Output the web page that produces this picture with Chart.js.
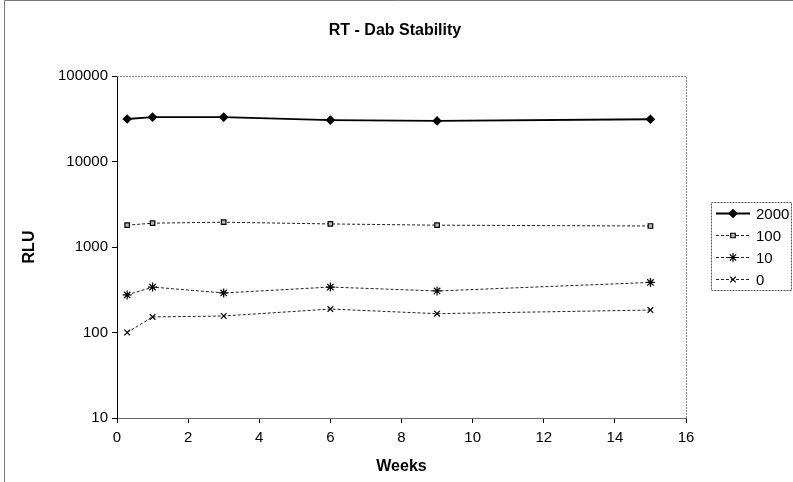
<!DOCTYPE html>
<html>
<head>
<meta charset="utf-8">
<script src="https://cdn.jsdelivr.net/npm/chart.js@4.4.1/dist/chart.umd.min.js"></script>
<style>
  html, body { margin: 0; padding: 0; background: #fff; }
  #wrap { width: 793px; height: 482px; position: relative; }
</style>
</head>
<body>
<div id="wrap"><canvas id="chart" width="793" height="482"></canvas></div>
<script>
// weeks at which each sample was read
const weeks = [0.286, 1, 3, 6, 9, 15];
const seriesNames = ['2000', '100', '10', '0'];
const rlu2000 = [31400, 33000, 33000, 30500, 29800, 31200];
const rlu100 = [1800, 1900, 1950, 1860, 1800, 1760];
const rlu10 = [275, 340, 290, 340, 306, 385];
const rlu0 = [100, 152, 156, 188, 166, 183];
const yTicks = [10, 100, 1000, 10000, 100000];
const xTicks = [0, 2, 4, 6, 8, 10, 12, 14, 16];

const FONT = "'Liberation Sans', Arial, sans-serif";

const styles = [
    { pointStyle: 'rectRot', radius: 4, fill: '#000', line: '#000', width: 1.8, dash: [] },
    { pointStyle: 'rect', radius: 3.2, fill: '#bbb', line: '#222', width: 1, dash: [3, 2] },
    { pointStyle: 'star', radius: 4.5, fill: '#fff', line: '#222', width: 1, dash: [3, 2] },
    { pointStyle: 'crossRot', radius: 4, fill: '#fff', line: '#222', width: 1, dash: [3, 2] }
];

const allValues = [rlu2000, rlu100, rlu10, rlu0];
const datasets = allValues.map((vals, i) => ({
    label: seriesNames[i],
    data: weeks.map((w, j) => ({ x: w, y: vals[j] })),
    borderColor: styles[i].line,
    borderWidth: styles[i].width,
    borderDash: styles[i].dash,
    pointStyle: styles[i].pointStyle,
    pointRadius: styles[i].radius,
    pointBackgroundColor: styles[i].fill,
    pointBorderColor: '#000',
    pointBorderWidth: 1.2,
    fill: false,
    tension: 0
}));

// frame, title, dotted plot border and legend box
const extras = {
    id: 'extras',
    beforeDraw(chart) {
        const ctx = chart.ctx;
        ctx.save();
        ctx.fillStyle = '#fff';
        ctx.fillRect(0, 0, chart.width, chart.height);
        ctx.strokeStyle = '#777';
        ctx.lineWidth = 1;
        ctx.beginPath();
        ctx.moveTo(4.5, chart.height);
        ctx.lineTo(4.5, 0.5);
        ctx.lineTo(chart.width, 0.5);
        ctx.stroke();
        ctx.restore();
    },
    afterDraw(chart) {
        const ctx = chart.ctx;
        const a = chart.chartArea;
        ctx.save();
        // title
        ctx.fillStyle = '#000';
        ctx.font = 'bold 16px ' + FONT;
        ctx.textAlign = 'center';
        ctx.textBaseline = 'middle';
        ctx.fillText('RT - Dab Stability', 395, 31);

        // dotted top/right border
        ctx.strokeStyle = '#888';
        ctx.setLineDash([2, 1]);
        ctx.beginPath();
        ctx.moveTo(a.left, a.top + 0.5);
        ctx.lineTo(a.right + 0.5, a.top + 0.5);
        ctx.lineTo(a.right + 0.5, a.bottom);
        ctx.stroke();

        // legend
        ctx.strokeStyle = '#555';
        ctx.setLineDash([2, 1]);
        ctx.strokeRect(711.5, 202.5, 80, 88);
        ctx.font = '15px ' + FONT;
        ctx.textAlign = 'left';
        chart.data.datasets.forEach((ds, i) => {
            const y = 213 + i * 22 + 0.5;
            ctx.strokeStyle = ds.borderColor;
            ctx.lineWidth = ds.borderWidth;
            ctx.setLineDash(ds.borderDash);
            ctx.beginPath();
            ctx.moveTo(716, y);
            ctx.lineTo(750, y);
            ctx.stroke();
            ctx.setLineDash([]);
            ctx.fillStyle = ds.pointBackgroundColor;
            ctx.strokeStyle = '#000';
            ctx.lineWidth = 1.2;
            Chart.helpers.drawPoint(ctx, { pointStyle: ds.pointStyle, radius: ds.pointRadius, borderWidth: 1.2, rotation: 0 }, 733, y);
            ctx.fillStyle = '#000';
            ctx.fillText(ds.label, 756, y + 1);
        });
        ctx.restore();
    }
};

new Chart(document.getElementById('chart'), {
    type: 'line',
    data: { datasets },
    plugins: [extras],
    options: {
        responsive: false,
        animation: false,
        layout: { padding: { left: 0, right: 107, top: 76, bottom: 0 } },
        plugins: { legend: { display: false }, title: { display: false }, tooltip: { enabled: false } },
        scales: {
            x: {
                type: 'linear',
                min: 0,
                max: 16,
                afterBuildTicks: s => { s.ticks = xTicks.map(v => ({ value: v })); },
                afterFit: s => { s.height = 64; },
                grid: { drawOnChartArea: false, drawTicks: true, tickLength: 5, color: '#000' },
                border: { display: true, color: '#666', dash: [3, 1] },
                ticks: { color: '#000', font: { family: FONT, size: 15 }, padding: 6, maxRotation: 0 },
                title: { display: true, text: 'Weeks', color: '#000', font: { family: FONT, size: 16, weight: 'bold' }, padding: { top: 0, bottom: 6 } }
            },
            y: {
                type: 'logarithmic',
                min: 10,
                max: 100000,
                afterBuildTicks: s => { s.ticks = yTicks.map(v => ({ value: v })); },
                afterFit: s => { s.width = 117; },
                grid: { drawOnChartArea: false, drawTicks: true, tickLength: 5, color: '#000' },
                border: { display: true, color: '#000', width: 1 },
                ticks: { color: '#000', font: { family: FONT, size: 15 }, padding: 4, callback: v => String(v) },
                title: { display: true, text: 'RLU', color: '#000', font: { family: FONT, size: 16, weight: 'bold' }, padding: { top: 20, bottom: 0 } }
            }
        }
    }
});
</script>
</body>
</html>
